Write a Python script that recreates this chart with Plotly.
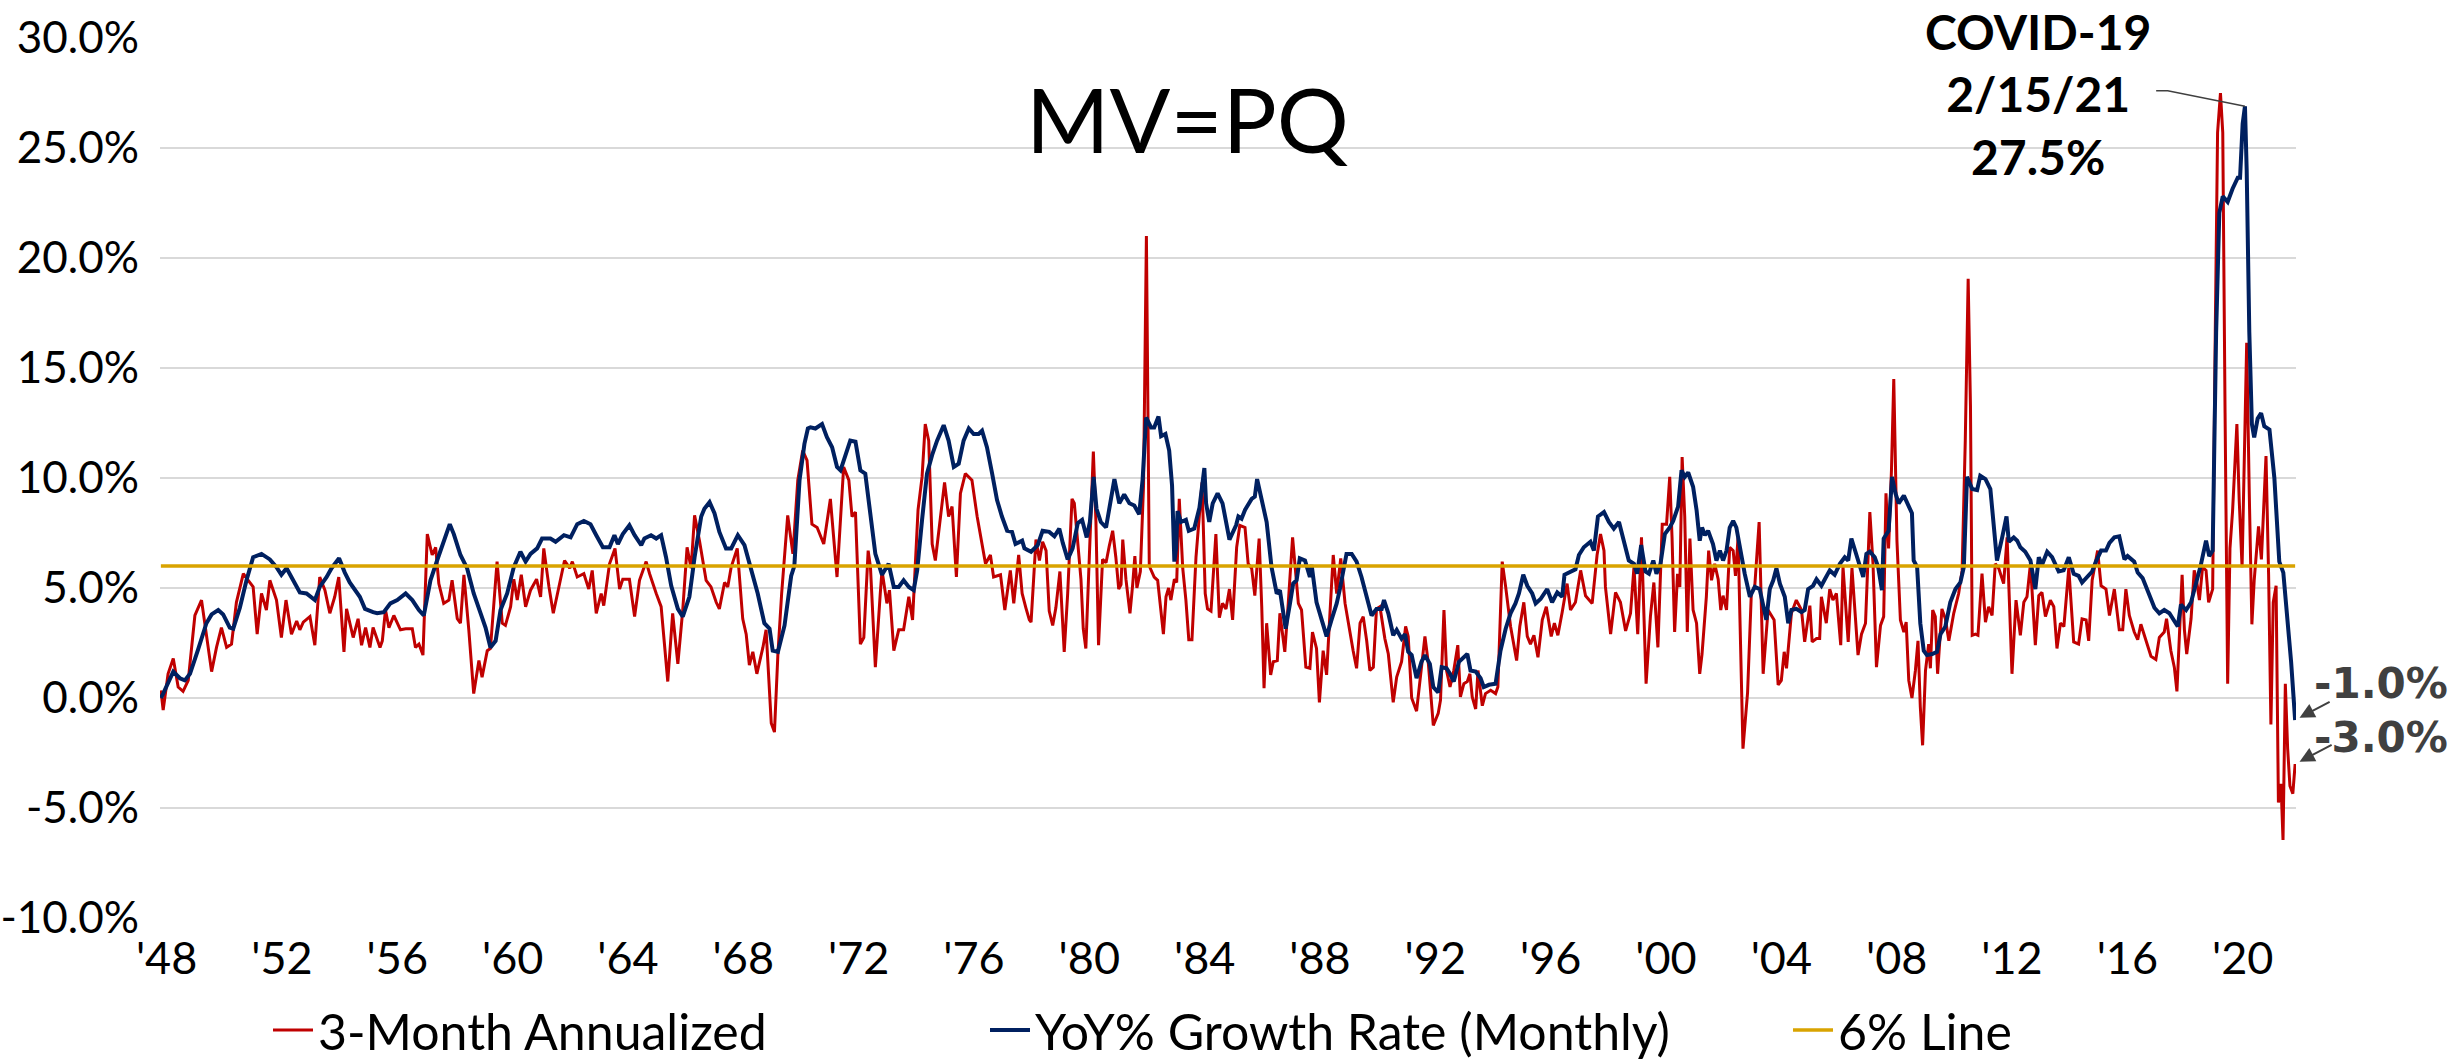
import plotly.graph_objects as go

# ---------------- data (decimal year, percent) ----------------
RED_POINTS = [
    (1948.00, 0.35), (1948.08, -0.55), (1948.25, 1.1), (1948.43, 1.8), (1948.60, 0.5), (1948.77, 0.3),
    (1948.95, 0.8), (1949.18, 3.75), (1949.41, 4.45), (1949.58, 2.9), (1949.76, 1.2), (1949.93, 2.3),
    (1950.10, 3.2), (1950.28, 2.3), (1950.45, 2.45), (1950.62, 4.35), (1950.86, 5.65), (1951.03, 5.35),
    (1951.20, 5.05), (1951.34, 2.9), (1951.49, 4.75), (1951.66, 4.0), (1951.78, 5.35), (1952.01, 4.45),
    (1952.18, 2.75), (1952.34, 4.45), (1952.53, 2.9), (1952.71, 3.5), (1952.82, 3.1), (1952.94, 3.45),
    (1953.17, 3.7), (1953.34, 2.4), (1953.51, 5.5), (1953.69, 4.9), (1953.86, 3.85), (1954.03, 4.6),
    (1954.17, 5.5), (1954.35, 2.1), (1954.44, 4.05), (1954.67, 2.75), (1954.84, 3.6), (1954.96, 2.4),
    (1955.10, 3.2), (1955.25, 2.3), (1955.36, 3.2), (1955.60, 2.3), (1955.68, 2.6), (1955.79, 4.0),
    (1955.91, 3.2), (1956.08, 3.75), (1956.31, 3.1), (1956.49, 3.15), (1956.72, 3.15), (1956.83, 2.3),
    (1956.95, 2.45), (1957.09, 1.95), (1957.24, 7.45), (1957.41, 6.5), (1957.53, 6.85), (1957.64, 5.2),
    (1957.81, 4.3), (1957.99, 4.45), (1958.10, 5.35), (1958.28, 3.6), (1958.39, 3.4), (1958.51, 5.6),
    (1958.68, 3.1), (1958.85, 0.2), (1959.03, 1.7), (1959.14, 0.95), (1959.32, 2.15), (1959.43, 2.25),
    (1959.66, 6.2), (1959.84, 3.4), (1959.95, 3.3), (1960.13, 4.15), (1960.24, 5.4), (1960.36, 4.45),
    (1960.50, 5.6), (1960.65, 4.15), (1960.82, 4.9), (1961.03, 5.4), (1961.17, 4.6), (1961.28, 6.8),
    (1961.46, 5.05), (1961.61, 3.85), (1961.80, 4.95), (1962.00, 6.25), (1962.18, 5.9), (1962.27, 6.2),
    (1962.44, 5.5), (1962.67, 5.65), (1962.84, 4.95), (1962.96, 5.8), (1963.10, 3.85), (1963.27, 4.75),
    (1963.36, 4.2), (1963.56, 6.1), (1963.75, 6.8), (1963.91, 4.95), (1964.02, 5.4), (1964.25, 5.4),
    (1964.43, 3.7), (1964.60, 5.35), (1964.83, 6.2), (1964.95, 5.65), (1965.18, 4.75), (1965.35, 4.15),
    (1965.58, 0.75), (1965.75, 3.85), (1965.93, 1.55), (1966.10, 4.0), (1966.25, 6.85), (1966.39, 5.9),
    (1966.51, 8.3), (1966.68, 7.15), (1966.91, 5.35), (1967.08, 5.05), (1967.26, 4.35), (1967.37, 4.05),
    (1967.55, 5.25), (1967.66, 5.05), (1967.78, 5.95), (1967.99, 6.8), (1968.18, 3.6), (1968.30, 2.9),
    (1968.41, 1.5), (1968.53, 2.1), (1968.67, 1.1), (1968.88, 2.3), (1968.99, 3.1), (1969.17, -1.15),
    (1969.28, -1.55), (1969.40, 2.0), (1969.53, 4.75), (1969.74, 8.3), (1969.92, 6.55), (1970.09, 9.9),
    (1970.26, 11.25), (1970.41, 10.8), (1970.58, 7.9), (1970.76, 7.75), (1970.99, 7.0), (1971.22, 9.05),
    (1971.45, 5.5), (1971.68, 10.5), (1971.86, 9.9), (1971.97, 8.25), (1972.09, 8.45), (1972.26, 2.45),
    (1972.38, 2.75), (1972.53, 6.7), (1972.61, 5.95), (1972.78, 1.4), (1972.95, 4.75), (1973.01, 5.8),
    (1973.18, 4.3), (1973.27, 4.9), (1973.42, 2.15), (1973.59, 3.1), (1973.76, 3.1), (1973.94, 4.6),
    (1974.07, 3.55), (1974.26, 8.55), (1974.40, 10.05), (1974.51, 12.45), (1974.63, 11.7), (1974.75, 7.0),
    (1974.86, 6.25), (1975.03, 8.1), (1975.18, 9.8), (1975.32, 8.25), (1975.44, 8.7), (1975.59, 5.5),
    (1975.73, 9.3), (1975.90, 10.2), (1976.13, 9.9), (1976.31, 8.25), (1976.48, 7.0), (1976.60, 6.1),
    (1976.77, 6.5), (1976.88, 5.5), (1977.12, 5.6), (1977.27, 4.0), (1977.46, 5.8), (1977.58, 4.3),
    (1977.75, 6.5), (1977.87, 4.75), (1978.00, 4.1), (1978.12, 3.55), (1978.18, 3.45), (1978.35, 7.2),
    (1978.47, 6.25), (1978.58, 7.1), (1978.70, 6.7), (1978.81, 3.95), (1978.93, 3.3), (1979.04, 4.1),
    (1979.18, 5.75), (1979.33, 2.1), (1979.45, 4.75), (1979.60, 9.05), (1979.68, 8.85), (1979.80, 7.05),
    (1979.91, 5.4), (1979.99, 3.15), (1980.08, 2.25), (1980.20, 6.4), (1980.34, 11.2), (1980.43, 8.0),
    (1980.52, 2.4), (1980.66, 6.3), (1980.78, 6.15), (1980.89, 6.9), (1981.01, 7.6), (1981.12, 6.4),
    (1981.22, 4.95), (1981.30, 5.15), (1981.36, 7.2), (1981.47, 5.4), (1981.61, 3.85), (1981.70, 5.1),
    (1981.78, 6.45), (1981.85, 5.0), (1981.97, 5.75), (1982.08, 9.65), (1982.18, 21.0), (1982.28, 6.0),
    (1982.45, 5.5), (1982.57, 5.35), (1982.69, 3.8), (1982.77, 2.9), (1982.86, 4.6), (1982.95, 5.0),
    (1983.03, 4.45), (1983.15, 5.4), (1983.23, 5.25), (1983.32, 9.05), (1983.44, 5.9), (1983.55, 4.45),
    (1983.65, 2.65), (1983.76, 2.65), (1983.90, 6.4), (1984.02, 8.5), (1984.11, 9.8), (1984.22, 4.75),
    (1984.30, 4.05), (1984.42, 3.95), (1984.59, 7.45), (1984.71, 3.65), (1984.82, 4.3), (1984.94, 4.05),
    (1985.06, 4.95), (1985.17, 3.55), (1985.31, 6.85), (1985.42, 7.85), (1985.60, 7.75), (1985.71, 6.1),
    (1985.83, 5.9), (1985.94, 4.65), (1986.09, 7.25), (1986.18, 4.15), (1986.26, 0.45), (1986.35, 3.4),
    (1986.49, 1.05), (1986.58, 1.65), (1986.72, 1.7), (1986.81, 3.85), (1986.98, 2.1), (1987.10, 4.3),
    (1987.25, 7.3), (1987.33, 6.1), (1987.45, 4.3), (1987.56, 4.0), (1987.71, 1.4), (1987.85, 1.35),
    (1987.94, 3.0), (1988.08, 2.25), (1988.18, -0.2), (1988.31, 2.15), (1988.43, 1.05), (1988.52, 3.25),
    (1988.66, 6.5), (1988.78, 4.75), (1988.92, 6.35), (1989.07, 4.3), (1989.24, 2.9), (1989.35, 2.15),
    (1989.47, 1.35), (1989.59, 3.4), (1989.70, 3.7), (1989.82, 2.6), (1989.93, 1.25), (1990.05, 1.4),
    (1990.16, 4.05), (1990.28, 4.15), (1990.45, 2.7), (1990.57, 2.0), (1990.74, -0.2), (1990.86, 0.95),
    (1991.03, 1.65), (1991.17, 3.25), (1991.26, 2.8), (1991.38, 0.0), (1991.55, -0.6), (1991.67, 0.8),
    (1991.84, 2.8), (1991.96, 1.55), (1992.13, -1.25), (1992.30, -0.7), (1992.38, -0.1), (1992.50, 4.0),
    (1992.59, 1.25), (1992.71, 0.5), (1992.84, 1.25), (1992.98, 2.4), (1993.07, 0.05), (1993.19, 0.65),
    (1993.31, 0.75), (1993.40, 1.1), (1993.48, 0.05), (1993.60, -0.5), (1993.68, 1.25), (1993.83, -0.35),
    (1993.94, 0.2), (1994.12, 0.35), (1994.29, 0.2), (1994.37, 0.5), (1994.52, 6.2), (1994.64, 5.05),
    (1994.81, 3.25), (1995.02, 1.7), (1995.13, 3.25), (1995.27, 4.35), (1995.39, 2.8), (1995.50, 2.45),
    (1995.62, 2.85), (1995.76, 1.85), (1995.91, 3.55), (1996.05, 4.15), (1996.22, 2.8), (1996.33, 3.4),
    (1996.45, 2.85), (1996.60, 3.9), (1996.77, 5.2), (1996.89, 4.0), (1997.06, 4.35), (1997.24, 5.8),
    (1997.41, 4.65), (1997.64, 4.3), (1997.81, 6.5), (1997.93, 7.45), (1998.05, 6.7), (1998.10, 5.05),
    (1998.28, 2.9), (1998.45, 4.8), (1998.62, 4.35), (1998.80, 3.05), (1998.97, 3.85), (1999.09, 5.95),
    (1999.22, 2.9), (1999.35, 7.3), (1999.51, 0.65), (1999.66, 3.7), (1999.78, 5.25), (1999.92, 2.3),
    (2000.07, 7.9), (2000.22, 7.9), (2000.33, 10.05), (2000.41, 7.3), (2000.50, 3.0), (2000.60, 5.65),
    (2000.68, 5.05), (2000.76, 10.95), (2000.85, 8.25), (2000.94, 3.0), (2001.03, 7.25), (2001.14, 4.0),
    (2001.26, 3.4), (2001.37, 1.1), (2001.45, 2.0), (2001.60, 4.6), (2001.68, 6.7), (2001.78, 5.35),
    (2001.89, 6.1), (2002.01, 5.4), (2002.10, 4.0), (2002.18, 4.65), (2002.30, 4.0), (2002.41, 6.85),
    (2002.53, 6.7), (2002.61, 5.55), (2002.70, 7.3), (2002.87, -2.3), (2003.03, 0.25), (2003.16, 4.75),
    (2003.28, 5.1), (2003.43, 8.0), (2003.57, 1.1), (2003.74, 4.0), (2003.95, 3.55), (2004.09, 0.6),
    (2004.20, 0.8), (2004.30, 2.1), (2004.38, 1.35), (2004.55, 3.85), (2004.72, 4.45), (2004.90, 4.0),
    (2005.01, 2.55), (2005.19, 4.2), (2005.27, 2.55), (2005.42, 2.7), (2005.53, 2.7), (2005.59, 4.6),
    (2005.76, 3.4), (2005.88, 4.95), (2005.99, 4.45), (2006.11, 4.75), (2006.26, 2.4), (2006.34, 5.95),
    (2006.52, 2.55), (2006.65, 5.9), (2006.86, 1.95), (2006.98, 2.9), (2007.12, 3.4), (2007.27, 8.45),
    (2007.38, 6.1), (2007.50, 1.4), (2007.64, 3.3), (2007.75, 3.7), (2007.83, 9.3), (2007.92, 6.8),
    (2008.02, 10.35), (2008.10, 14.5), (2008.21, 7.15), (2008.33, 3.55), (2008.45, 3.0), (2008.53, 3.45),
    (2008.62, 0.8), (2008.73, 0.0), (2008.85, 1.25), (2008.94, 2.6), (2009.02, -0.4), (2009.10, -2.15),
    (2009.20, 1.25), (2009.31, 2.45), (2009.37, 1.35), (2009.45, 4.0), (2009.54, 3.7), (2009.62, 1.1),
    (2009.77, 4.05), (2009.89, 3.6), (2010.01, 2.6), (2010.18, 3.85), (2010.35, 4.75), (2010.47, 5.8),
    (2010.58, 11.7), (2010.68, 19.05), (2010.76, 13.25), (2010.82, 2.85), (2010.93, 2.9), (2011.02, 2.85),
    (2011.16, 5.65), (2011.28, 3.45), (2011.39, 4.15), (2011.51, 3.75), (2011.62, 6.1), (2011.74, 5.9),
    (2011.91, 5.2), (2012.03, 7.3), (2012.20, 1.1), (2012.34, 4.45), (2012.49, 2.85), (2012.61, 4.35),
    (2012.72, 4.6), (2012.84, 6.1), (2013.01, 2.4), (2013.13, 4.65), (2013.24, 4.8), (2013.36, 3.7),
    (2013.53, 4.45), (2013.65, 4.15), (2013.76, 2.25), (2013.88, 3.4), (2014.00, 3.25), (2014.17, 5.9),
    (2014.34, 2.55), (2014.51, 2.45), (2014.63, 3.6), (2014.77, 3.55), (2014.86, 2.6), (2014.98, 5.35),
    (2015.17, 6.7), (2015.29, 5.1), (2015.46, 4.95), (2015.58, 3.75), (2015.75, 4.95), (2015.92, 3.1),
    (2016.04, 3.1), (2016.15, 4.95), (2016.27, 3.75), (2016.44, 3.0), (2016.56, 2.65), (2016.67, 3.35),
    (2016.85, 2.65), (2017.02, 1.9), (2017.19, 1.75), (2017.31, 2.75), (2017.48, 3.0), (2017.56, 3.6),
    (2017.71, 2.15), (2017.83, 1.4), (2017.92, 0.3), (2018.00, 2.9), (2018.10, 5.6), (2018.18, 3.1),
    (2018.26, 2.0), (2018.41, 3.6), (2018.52, 5.8), (2018.60, 5.35), (2018.70, 4.45), (2018.81, 5.95),
    (2018.93, 5.8), (2019.02, 4.35), (2019.16, 4.95), (2019.25, 16.65), (2019.33, 25.7), (2019.43, 27.5),
    (2019.51, 25.7), (2019.59, 12.95), (2019.68, 0.65), (2019.76, 6.8), (2019.85, 8.5), (2020.00, 12.45),
    (2020.08, 9.0), (2020.18, 5.95), (2020.26, 11.2), (2020.34, 16.15), (2020.43, 9.25), (2020.52, 3.35),
    (2020.60, 5.35), (2020.75, 7.8), (2020.85, 6.3), (2021.01, 11.0), (2021.10, 5.6), (2021.18, -1.2),
    (2021.26, 4.35), (2021.36, 5.1), (2021.44, -4.75), (2021.53, -3.9), (2021.60, -6.45), (2021.68, 0.65),
    (2021.76, -2.3), (2021.84, -4.0), (2021.94, -4.35), (2022.02, -3.0),
]

BLUE_POINTS = [
    (1948.00, 0.0), (1948.08, 0.2), (1948.43, 1.2), (1948.66, 0.9), (1948.83, 0.8), (1949.01, 1.1),
    (1949.29, 2.2), (1949.58, 3.4), (1949.76, 3.8), (1949.99, 4.0), (1950.16, 3.8), (1950.39, 3.2),
    (1950.51, 3.15), (1950.74, 4.1), (1950.97, 5.35), (1951.20, 6.4), (1951.49, 6.55), (1951.78, 6.3),
    (1952.01, 5.95), (1952.18, 5.6), (1952.36, 5.9), (1952.59, 5.35), (1952.82, 4.8), (1953.05, 4.75),
    (1953.34, 4.45), (1953.51, 5.05), (1953.75, 5.5), (1953.92, 5.9), (1954.18, 6.35), (1954.38, 5.7),
    (1954.55, 5.25), (1954.90, 4.6), (1955.08, 4.05), (1955.36, 3.9), (1955.50, 3.85), (1955.73, 3.9),
    (1955.96, 4.3), (1956.20, 4.45), (1956.49, 4.75), (1956.72, 4.45), (1956.95, 4.0), (1957.12, 3.75),
    (1957.35, 5.35), (1957.58, 6.25), (1957.81, 7.15), (1958.02, 7.9), (1958.16, 7.45), (1958.39, 6.5),
    (1958.62, 5.9), (1958.85, 4.75), (1959.09, 3.85), (1959.26, 3.2), (1959.43, 2.3), (1959.61, 2.6),
    (1959.78, 4.0), (1960.01, 4.75), (1960.24, 5.95), (1960.47, 6.65), (1960.65, 6.2), (1960.82, 6.55),
    (1961.05, 6.8), (1961.22, 7.25), (1961.51, 7.25), (1961.69, 7.1), (1961.98, 7.4), (1962.21, 7.3),
    (1962.44, 7.9), (1962.67, 8.05), (1962.90, 7.9), (1963.02, 7.55), (1963.10, 7.4), (1963.33, 6.85),
    (1963.56, 6.85), (1963.73, 7.4), (1963.85, 7.0), (1964.02, 7.45), (1964.25, 7.85), (1964.43, 7.4),
    (1964.66, 6.95), (1964.77, 7.25), (1965.00, 7.4), (1965.18, 7.25), (1965.35, 7.4), (1965.52, 6.4),
    (1965.70, 5.1), (1965.93, 4.05), (1966.10, 3.7), (1966.33, 4.6), (1966.51, 6.4), (1966.74, 8.25),
    (1966.85, 8.6), (1967.03, 8.9), (1967.20, 8.4), (1967.37, 7.55), (1967.60, 6.8), (1967.78, 6.8),
    (1968.01, 7.4), (1968.24, 6.95), (1968.47, 5.8), (1968.70, 4.75), (1968.93, 3.4), (1969.11, 3.15),
    (1969.22, 2.15), (1969.40, 2.1), (1969.63, 3.3), (1969.86, 5.55), (1969.97, 6.0), (1970.15, 9.9),
    (1970.32, 11.55), (1970.44, 12.25), (1970.53, 12.3), (1970.70, 12.25), (1970.93, 12.45), (1971.10, 11.85),
    (1971.28, 11.4), (1971.45, 10.5), (1971.57, 10.35), (1971.74, 11.1), (1971.91, 11.7), (1972.09, 11.65),
    (1972.26, 10.35), (1972.43, 10.2), (1972.61, 8.4), (1972.78, 6.55), (1973.01, 5.6), (1973.24, 6.1),
    (1973.42, 5.05), (1973.59, 5.05), (1973.76, 5.35), (1973.94, 5.05), (1974.11, 4.9), (1974.23, 5.8),
    (1974.40, 8.1), (1974.57, 10.2), (1974.75, 11.05), (1974.92, 11.7), (1975.15, 12.4), (1975.32, 11.7),
    (1975.50, 10.5), (1975.67, 10.65), (1975.84, 11.7), (1976.02, 12.25), (1976.19, 12.0), (1976.36, 12.0),
    (1976.48, 12.15), (1976.65, 11.4), (1976.83, 10.2), (1977.00, 9.0), (1977.17, 8.25), (1977.35, 7.6),
    (1977.52, 7.55), (1977.64, 7.0), (1977.87, 7.15), (1977.95, 6.8), (1978.18, 6.65), (1978.41, 6.95),
    (1978.58, 7.6), (1978.81, 7.55), (1978.99, 7.35), (1979.16, 7.7), (1979.28, 7.05), (1979.45, 6.3),
    (1979.62, 6.8), (1979.80, 7.95), (1979.95, 8.1), (1980.11, 7.3), (1980.22, 8.0), (1980.35, 10.05),
    (1980.45, 8.6), (1980.60, 8.0), (1980.78, 7.75), (1980.92, 8.75), (1981.07, 9.95), (1981.24, 8.85),
    (1981.41, 9.25), (1981.59, 8.85), (1981.76, 8.75), (1981.93, 8.35), (1982.05, 9.95), (1982.17, 12.75),
    (1982.34, 12.3), (1982.45, 12.3), (1982.60, 12.8), (1982.69, 11.9), (1982.84, 12.0), (1982.97, 11.25),
    (1983.07, 9.65), (1983.15, 6.2), (1983.21, 6.8), (1983.26, 8.5), (1983.38, 8.0), (1983.55, 8.1),
    (1983.65, 7.6), (1983.84, 7.7), (1984.02, 8.65), (1984.19, 10.45), (1984.25, 8.85), (1984.36, 8.0),
    (1984.48, 8.85), (1984.65, 9.3), (1984.82, 8.85), (1985.06, 7.2), (1985.29, 7.85), (1985.37, 8.25),
    (1985.48, 8.15), (1985.60, 8.55), (1985.83, 9.05), (1985.94, 9.15), (1986.02, 9.95), (1986.18, 9.0),
    (1986.35, 8.0), (1986.52, 5.95), (1986.70, 4.75), (1986.81, 4.9), (1987.01, 3.15), (1987.16, 4.3),
    (1987.27, 5.2), (1987.39, 5.35), (1987.50, 6.35), (1987.68, 6.25), (1987.85, 5.5), (1987.91, 6.05),
    (1988.08, 4.35), (1988.26, 3.55), (1988.43, 2.8), (1988.60, 3.55), (1988.78, 4.3), (1988.89, 4.95),
    (1989.12, 6.55), (1989.30, 6.55), (1989.47, 6.2), (1989.64, 5.5), (1989.82, 4.65), (1989.99, 3.75),
    (1990.16, 4.05), (1990.34, 4.05), (1990.42, 4.45), (1990.57, 3.85), (1990.74, 2.85), (1990.86, 3.1),
    (1991.03, 2.7), (1991.15, 2.9), (1991.26, 2.1), (1991.38, 1.95), (1991.55, 0.9), (1991.72, 1.65),
    (1991.84, 1.95), (1992.01, 1.55), (1992.13, 0.5), (1992.30, 0.25), (1992.42, 1.4), (1992.59, 1.35),
    (1992.71, 1.1), (1992.84, 0.75), (1993.02, 1.65), (1993.19, 1.85), (1993.31, 2.0), (1993.42, 1.25),
    (1993.60, 1.2), (1993.77, 0.9), (1993.88, 0.5), (1994.06, 0.6), (1994.29, 0.65), (1994.46, 2.15),
    (1994.64, 3.15), (1994.81, 3.85), (1994.98, 4.3), (1995.10, 4.75), (1995.25, 5.6), (1995.39, 5.1),
    (1995.56, 4.75), (1995.68, 4.3), (1995.85, 4.5), (1996.08, 4.95), (1996.25, 4.35), (1996.43, 4.8),
    (1996.60, 4.6), (1996.68, 5.6), (1996.89, 5.75), (1997.06, 5.85), (1997.18, 6.5), (1997.35, 6.85),
    (1997.58, 7.1), (1997.70, 6.7), (1997.84, 8.25), (1998.05, 8.45), (1998.22, 8.0), (1998.39, 7.7),
    (1998.57, 8.0), (1998.74, 7.1), (1998.91, 6.25), (1999.09, 6.1), (1999.20, 5.65), (1999.34, 6.95),
    (1999.49, 5.75), (1999.61, 5.65), (1999.76, 6.25), (1999.87, 5.65), (2000.01, 6.1), (2000.16, 7.45),
    (2000.33, 7.75), (2000.45, 8.05), (2000.62, 8.7), (2000.74, 10.35), (2000.85, 10.05), (2000.97, 10.25),
    (2001.14, 9.6), (2001.26, 8.55), (2001.37, 7.15), (2001.45, 7.75), (2001.55, 7.4), (2001.66, 7.6),
    (2001.83, 7.0), (2001.95, 6.25), (2002.07, 6.7), (2002.18, 6.25), (2002.30, 6.7), (2002.41, 7.75),
    (2002.53, 8.05), (2002.64, 7.75), (2002.82, 6.4), (2002.93, 5.65), (2003.11, 4.6), (2003.28, 5.05),
    (2003.45, 4.95), (2003.57, 4.15), (2003.68, 3.55), (2003.80, 4.95), (2003.92, 5.35), (2004.03, 5.9),
    (2004.15, 5.2), (2004.32, 4.6), (2004.44, 3.4), (2004.55, 4.0), (2004.72, 4.05), (2004.90, 3.9),
    (2005.01, 4.0), (2005.13, 4.95), (2005.30, 5.1), (2005.42, 5.4), (2005.59, 5.1), (2005.71, 5.4),
    (2005.88, 5.8), (2006.05, 5.6), (2006.23, 6.1), (2006.40, 6.4), (2006.52, 6.25), (2006.63, 7.25),
    (2006.75, 6.7), (2006.86, 6.25), (2007.04, 5.5), (2007.15, 6.55), (2007.27, 6.65), (2007.44, 6.4),
    (2007.56, 5.95), (2007.69, 4.9), (2007.75, 7.25), (2007.92, 7.6), (2008.04, 10.05), (2008.16, 9.3),
    (2008.27, 8.85), (2008.45, 9.2), (2008.62, 8.7), (2008.73, 8.4), (2008.79, 6.25), (2008.91, 5.95),
    (2009.02, 3.4), (2009.14, 2.15), (2009.25, 1.95), (2009.43, 2.0), (2009.60, 2.1), (2009.72, 2.9),
    (2009.89, 3.25), (2010.06, 4.35), (2010.24, 4.95), (2010.41, 5.25), (2010.53, 5.95), (2010.64, 10.05),
    (2010.82, 9.5), (2010.99, 9.45), (2011.10, 10.1), (2011.28, 9.95), (2011.45, 9.5), (2011.57, 7.9),
    (2011.68, 6.25), (2011.86, 7.3), (2012.01, 8.25), (2012.09, 7.1), (2012.26, 7.3), (2012.38, 7.15),
    (2012.49, 6.85), (2012.66, 6.65), (2012.84, 6.25), (2013.01, 4.95), (2013.13, 6.4), (2013.24, 6.05),
    (2013.42, 6.65), (2013.59, 6.4), (2013.82, 5.75), (2013.99, 5.8), (2014.17, 6.4), (2014.34, 5.65),
    (2014.51, 5.55), (2014.63, 5.25), (2014.80, 5.5), (2014.98, 5.75), (2015.11, 6.2), (2015.29, 6.7),
    (2015.46, 6.7), (2015.58, 7.05), (2015.75, 7.3), (2015.92, 7.35), (2016.10, 6.3), (2016.21, 6.45),
    (2016.44, 6.2), (2016.56, 5.7), (2016.73, 5.45), (2016.96, 4.7), (2017.14, 4.1), (2017.31, 3.85),
    (2017.48, 4.0), (2017.66, 3.85), (2017.83, 3.5), (2017.95, 3.25), (2018.06, 4.25), (2018.24, 4.0),
    (2018.41, 4.35), (2018.58, 5.2), (2018.75, 6.05), (2018.93, 7.15), (2019.04, 6.45), (2019.16, 6.7),
    (2019.28, 16.6), (2019.39, 22.05), (2019.51, 22.8), (2019.68, 22.55), (2019.85, 23.15), (2020.03, 23.65),
    (2020.11, 23.65), (2020.20, 26.1), (2020.28, 26.9), (2020.34, 24.0), (2020.43, 16.65), (2020.52, 12.45),
    (2020.60, 11.85), (2020.72, 12.7), (2020.84, 12.95), (2020.95, 12.35), (2021.13, 12.2), (2021.30, 10.0),
    (2021.47, 6.2), (2021.61, 5.7), (2021.76, 3.6), (2021.88, 1.65), (2022.02, -1.0),
]

SIX_PCT_LINE = 6.0
X_TICK_YEARS = list(range(1948, 2021, 4))
Y_TICKS = list(range(-10, 31, 5))
TITLE_TEXT = "MV=PQ"
COVID_LINES = ["COVID-19", "2/15/21", "27.5%"]
SERIES_NAMES = ["3-Month Annualized", "YoY% Growth Rate (Monthly)", "6% Line"]

# ---------------- styling ----------------
RED = "#C00000"
NAVY = "#002060"
GOLD = "#D9A300"
GRID = "#D9D9D9"
ANN = "#404040"
FONT = "Lato, Noto Sans, sans-serif"
TICK_SHIFT = 0.2  # category label centres sit slightly right of period starts

red_t = [p[0] for p in RED_POINTS]
red_v = [p[1] for p in RED_POINTS]
blue_t = [p[0] for p in BLUE_POINTS]
blue_v = [p[1] for p in BLUE_POINTS]
t0, t1 = min(red_t + blue_t), max(red_t + blue_t)

fig = go.Figure()
fig.add_trace(go.Scatter(x=red_t, y=red_v, mode="lines", name=SERIES_NAMES[0],
                         line=dict(color=RED, width=3), legend="legend", hoverinfo="skip"))
fig.add_trace(go.Scatter(x=blue_t, y=blue_v, mode="lines", name=SERIES_NAMES[1],
                         line=dict(color=NAVY, width=4), legend="legend2", hoverinfo="skip"))
fig.add_trace(go.Scatter(x=[t0, t1], y=[SIX_PCT_LINE, SIX_PCT_LINE], mode="lines", name=SERIES_NAMES[2],
                         line=dict(color=GOLD, width=3.5), legend="legend3", hoverinfo="skip"))

PLOT_L, PLOT_R, PLOT_T, PLOT_B = 160, 162, 38, 141
W, H = 2458, 1059
pw, ph = W - PLOT_L - PLOT_R, H - PLOT_T - PLOT_B


def px_x(p):
    return (p - PLOT_L) / pw


def px_y(p):
    return (H - PLOT_B - p) / ph


legend_common = dict(orientation="h", yanchor="middle", xanchor="left", y=px_y(1030),
                     font=dict(family=FONT, size=50, color="#000000"), bgcolor="rgba(0,0,0,0)",
                     itemwidth=40)

fig.update_layout(
    width=W, height=H,
    margin=dict(l=PLOT_L, r=PLOT_R, t=PLOT_T, b=PLOT_B, pad=0, autoexpand=False),
    paper_bgcolor="white", plot_bgcolor="white",
    showlegend=True,
    legend=dict(x=px_x(268), **legend_common),
    legend2=dict(x=px_x(985), **legend_common),
    legend3=dict(x=px_x(1788), **legend_common),
    xaxis=dict(range=[t0 - 0.03, t1 + 0.03], tickvals=[y + TICK_SHIFT for y in X_TICK_YEARS],
               ticktext=["'" + str(y)[2:] for y in X_TICK_YEARS], showgrid=False, zeroline=False,
               showline=False, ticks="", automargin=False,
               tickfont=dict(family=FONT, size=45, color="#000000"), ticklabelstandoff=10),
    yaxis=dict(range=[-10, 30], tickvals=Y_TICKS, ticktext=[f"{v:.1f}%" for v in Y_TICKS],
               showgrid=True, gridcolor=GRID, gridwidth=2, zeroline=False, showline=False, ticks="",
               automargin=False, tickfont=dict(family=FONT, size=44, color="#000000"),
               ticklabelstandoff=20),
)

# title inside plot
fig.add_annotation(x=px_x(1187), y=px_y(118), xref="paper", yref="paper", text=TITLE_TEXT,
                   showarrow=False, xanchor="center", yanchor="middle",
                   font=dict(family=FONT, size=90, color="#000000"))

# COVID label
fig.add_annotation(x=px_x(2038), y=px_y(94), xref="paper", yref="paper",
                   text="<br>".join(COVID_LINES), showarrow=False, xanchor="center", yanchor="middle",
                   align="center", font=dict(family=FONT, size=48, color="#000000", weight="bold"))

# leader line from label to YoY peak
ipk = max(range(len(blue_v)), key=lambda i: blue_v[i])
fig.add_shape(type="path", xref="x", yref="y",
              path=f"M 2017.2 27.6 L 2017.6 27.6 L {blue_t[ipk]} {blue_v[ipk]}",
              line=dict(color=ANN, width=1.5))

# end-value callouts: arrow from below the label to the series' last point, label placed beside
for t, v, tail_dx, tail_dy, lab_dy in [(blue_t[-1], blue_v[-1], 36, -19, 37),
                                       (red_t[-1], red_v[-1], 38, -20, 27)]:
    fig.add_annotation(x=t, y=v, xref="x", yref="y", text="", showarrow=True,
                       ax=tail_dx, ay=tail_dy, arrowhead=2, arrowsize=1.5, arrowwidth=2,
                       arrowcolor=ANN, standoff=5)
    fig.add_annotation(x=t, y=v, xref="x", yref="y", text=f"{v:.1f}%", showarrow=False,
                       xshift=86, yshift=lab_dy, xanchor="center", yanchor="middle",
                       font=dict(family="DejaVu Sans", size=42, color=ANN, weight="bold"))

fig.write_html("out.html", config={"displayModeBar": False},
               post_script="document.body.style.margin='0';document.body.style.overflow='hidden';")
